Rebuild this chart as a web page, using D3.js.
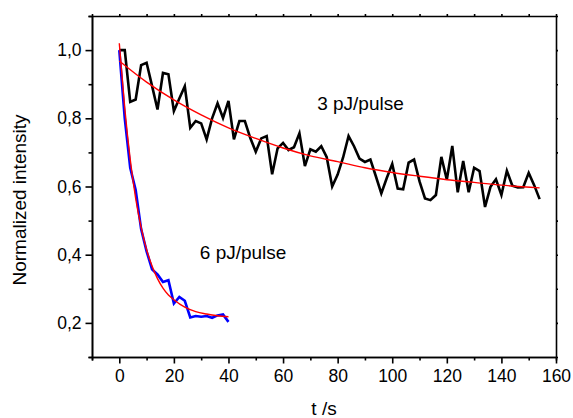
<!DOCTYPE html>
<meta charset="utf-8">
<style>

body {
  margin: 0;
  background: #fff;
}

svg {
  font-family: "Liberation Sans", Arial, sans-serif;
}

.axis path,
.axis line {
  stroke: #000;
  stroke-width: 1.6;
}

.axis text {
  font-size: 17.5px;
  fill: #000;
}

.label {
  font-size: 19px;
  fill: #000;
}

.data {
  fill: none;
  stroke-width: 2.6;
  stroke-linejoin: miter;
}

.fit {
  fill: none;
  stroke: #f00;
  stroke-width: 1.4;
}

</style>
<svg width="573" height="418"></svg>
<script src="https://d3js.org/d3.v7.min.js"></script>
<script>

// 3 pJ/pulse measurement, one point every 2 s
var t3 = d3.range(0, 155, 2);
var v3 = [1.00, 1.00, 0.848, 0.855, 0.956, 0.963, 0.895, 0.826, 0.933, 0.929,
          0.821, 0.858, 0.894, 0.772, 0.792, 0.785, 0.738, 0.800, 0.844, 0.801,
          0.851, 0.738, 0.792, 0.792, 0.742, 0.702, 0.741, 0.748, 0.636, 0.712,
          0.728, 0.707, 0.715, 0.756, 0.660, 0.709, 0.702, 0.718, 0.686, 0.600,
          0.635, 0.685, 0.748, 0.718, 0.682, 0.672, 0.679, 0.630, 0.580, 0.625,
          0.666, 0.594, 0.592, 0.670, 0.679, 0.615, 0.565, 0.560, 0.575, 0.687,
          0.620, 0.719, 0.583, 0.675, 0.583, 0.655, 0.645, 0.540, 0.599, 0.621,
          0.575, 0.646, 0.602, 0.597, 0.598, 0.640, 0.604, 0.563];

// 6 pJ/pulse measurement
var t6 = d3.range(0, 41, 2);
var v6 = [1.00, 0.80, 0.655, 0.590, 0.475, 0.410, 0.357, 0.342, 0.320, 0.325,
          0.257, 0.276, 0.265, 0.216, 0.220, 0.218, 0.220, 0.215, 0.222, 0.225, 0.203];

// exponential fits
var fit3T = [0, 10, 20, 30, 40, 50, 60, 70, 80, 90, 100, 110, 120, 130, 140, 154];
var fit3V = [0.968, 0.906, 0.854, 0.810, 0.772, 0.741, 0.713, 0.690, 0.673, 0.655,
             0.641, 0.630, 0.620, 0.612, 0.604, 0.596];
var fit6T = [0, 2, 4, 6, 8, 10, 12, 14, 16, 18, 20, 24, 28, 32, 36, 40];
var fit6V = [1.02, 0.83, 0.68, 0.565, 0.480, 0.415, 0.367, 0.330, 0.302, 0.282,
             0.268, 0.246, 0.233, 0.226, 0.221, 0.218];

var xMajor = [0, 20, 40, 60, 80, 100, 120, 140, 160];
var xMinor = [-10, 10, 30, 50, 70, 90, 110, 130, 150];
var yMajor = [0.2, 0.4, 0.6, 0.8, 1.0];
var yMinor = [0.1, 0.3, 0.5, 0.7, 0.9, 1.1];

var svg = d3.select("svg"),
    margin = {top: 16, right: 17, bottom: 61, left: 92},
    width = +svg.attr("width") - margin.left - margin.right,
    height = +svg.attr("height") - margin.top - margin.bottom;

var x = d3.scaleLinear().domain([-10, 160]).range([0, width]);
var y = d3.scaleLinear().domain([0.1, 1.1]).range([height, 0]);

var comma = function(d) { return d3.format(".1f")(d).replace(".", ","); };

var g = svg.append("g")
    .attr("transform", "translate(" + margin.left + "," + margin.top + ")");

// minor ticks first, then the labelled ones
g.append("g")
    .attr("class", "axis")
    .attr("transform", "translate(0," + height + ")")
    .call(d3.axisBottom(x).tickValues(xMinor).tickSize(3.5).tickFormat(""));

g.append("g")
    .attr("class", "axis")
    .attr("transform", "translate(0," + height + ")")
    .call(d3.axisBottom(x).tickValues(xMajor).tickSize(6.5).tickSizeOuter(0).tickPadding(5))
  .selectAll("text")
    .attr("dy", "0.78em");

g.append("g")
    .attr("class", "axis")
    .call(d3.axisLeft(y).tickValues(yMinor).tickSize(3.5).tickFormat(""));

g.append("g")
    .attr("class", "axis")
    .call(d3.axisLeft(y).tickValues(yMajor).tickSize(6.5).tickSizeOuter(0).tickPadding(4).tickFormat(comma));

// mirrored frame with small outward ticks
g.append("g")
    .attr("class", "axis")
    .call(d3.axisTop(x).tickValues(xMinor.concat(xMajor)).tickSize(2).tickSizeOuter(0).tickFormat(""));

g.append("g")
    .attr("class", "axis")
    .attr("transform", "translate(" + width + ",0)")
    .call(d3.axisRight(y).tickValues(yMinor.concat(yMajor)).tickSize(2).tickSizeOuter(0).tickFormat(""));

var line = d3.line()
    .x(function(d) { return x(d[0]); })
    .y(function(d) { return y(d[1]); });

var smooth = d3.line()
    .curve(d3.curveMonotoneX)
    .x(function(d) { return x(d[0]); })
    .y(function(d) { return y(d[1]); });

g.append("path")
    .datum(d3.zip(t3, v3))
    .attr("class", "data")
    .attr("stroke", "#000")
    .attr("d", line);

g.append("path")
    .datum(d3.zip(t6, v6))
    .attr("class", "data")
    .attr("stroke", "#00f")
    .attr("d", line);

g.append("path")
    .datum(d3.zip(fit3T, fit3V))
    .attr("class", "fit")
    .attr("d", smooth);

g.append("path")
    .datum(d3.zip(fit6T, fit6V))
    .attr("class", "fit")
    .attr("d", smooth);

g.append("text")
    .attr("class", "label")
    .attr("x", x(72.5))
    .attr("y", y(0.80) - 8.5)
    .text("3 pJ/pulse");

g.append("text")
    .attr("class", "label")
    .attr("x", x(29.5))
    .attr("y", y(0.387))
    .text("6 pJ/pulse");

svg.append("text")
    .attr("class", "label")
    .attr("text-anchor", "middle")
    .attr("x", margin.left + width / 2)
    .attr("y", 415)
    .text("t /s");

svg.append("text")
    .attr("class", "label")
    .attr("text-anchor", "middle")
    .attr("transform", "translate(26,200) rotate(-90)")
    .text("Normalized intensity");

</script>
